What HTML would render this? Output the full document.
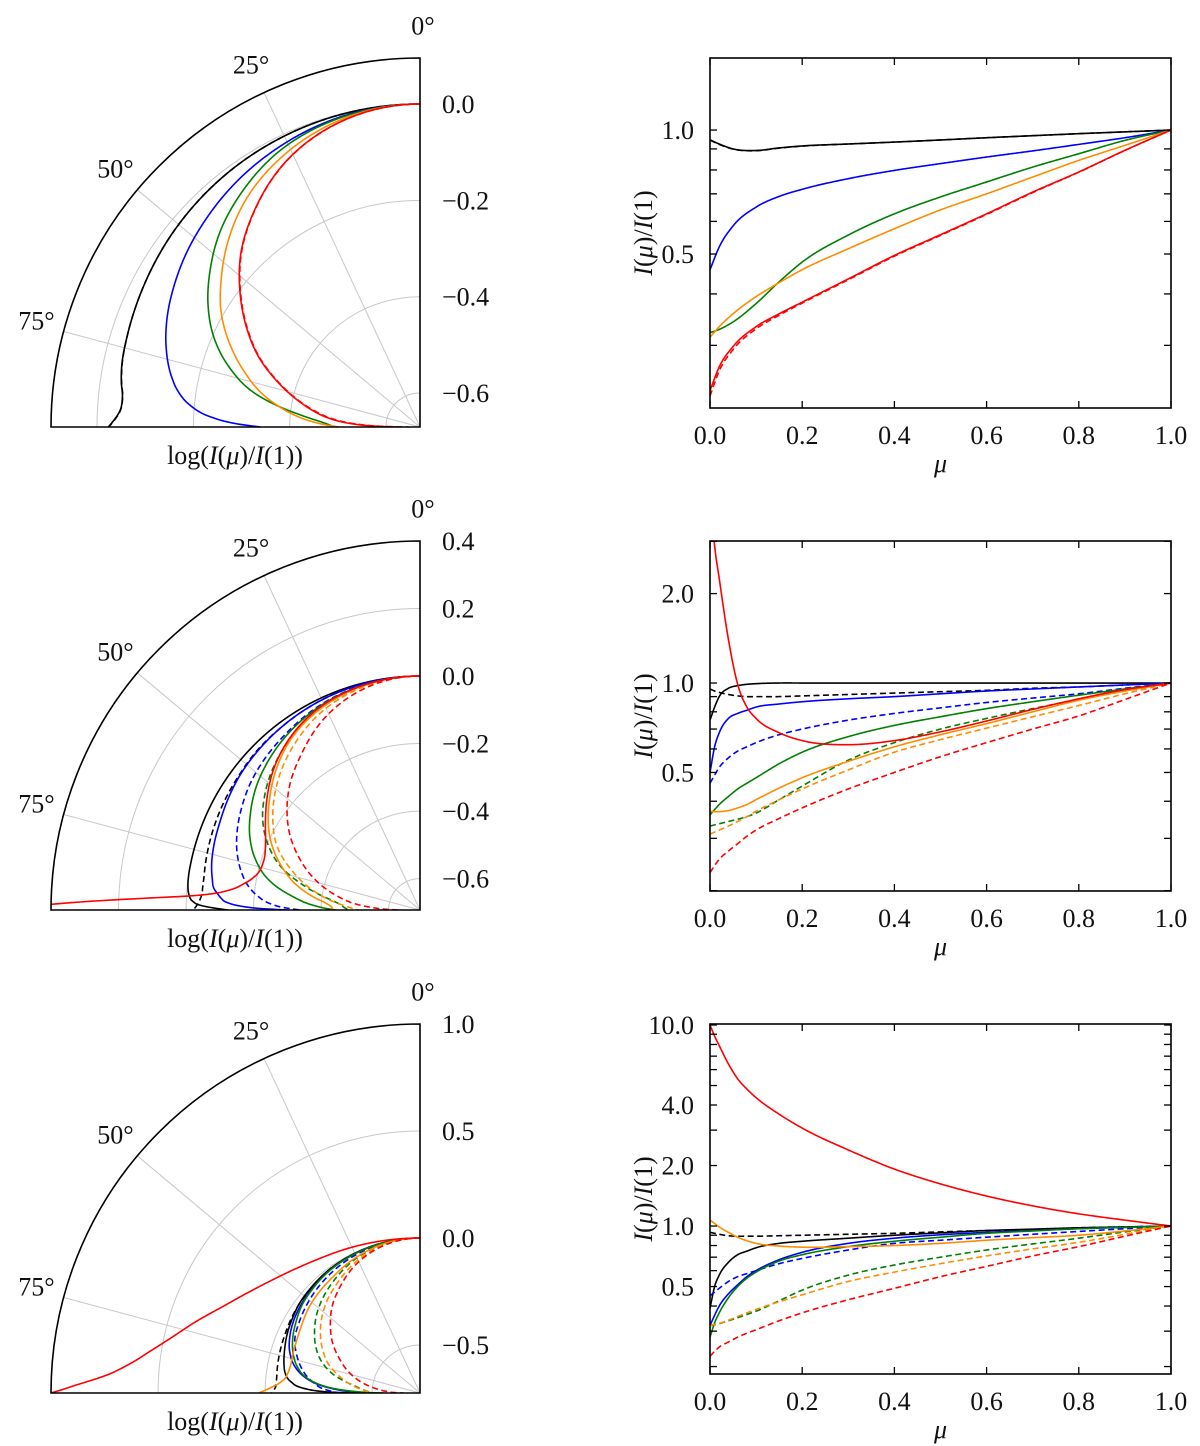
<!DOCTYPE html>
<html><head><meta charset="utf-8">
<style>
html,body{margin:0;padding:0;background:#fff;}
svg{display:block;}
text{font-family:"Liberation Serif","DejaVu Serif",serif;font-size:26px;fill:#111;}
</style></head>
<body>
<svg id="fig" width="1200" height="1446" viewBox="0 0 1200 1446" xmlns="http://www.w3.org/2000/svg"></svg>
<script>
// ---------- DATA: I(mu)/I(1) ----------
const muRow1=[0,0.02,0.05,0.1,0.15,0.2,0.3,0.4,0.5,0.6,0.7,0.8,0.9,1];
const r1Black=[0.947,0.925,0.9,0.892,0.905,0.915,0.925,0.935,0.946,0.958,0.969,0.98,0.99,1];
const r1BlackDash=[0.945,0.923,0.899,0.891,0.904,0.914,0.925,0.935,0.946,0.958,0.969,0.98,0.99,1];
const r1Blue=[0.458,0.52,0.585,0.65,0.69,0.718,0.762,0.798,0.829,0.86,0.89,0.923,0.958,1];
const r1Green=[0.322,0.328,0.342,0.379,0.428,0.478,0.556,0.626,0.688,0.748,0.813,0.876,0.944,1];
const r1Orange=[0.314,0.333,0.358,0.394,0.426,0.458,0.515,0.576,0.64,0.7,0.769,0.844,0.918,1];
const r1Red=[0.233,0.266,0.298,0.333,0.358,0.382,0.435,0.496,0.557,0.626,0.707,0.791,0.893,1];
const r1RedDash=[0.226,0.26,0.293,0.329,0.355,0.38,0.433,0.494,0.555,0.624,0.705,0.79,0.892,1];

const muRow2=[0,0.01,0.02,0.04,0.06,0.08,0.1,0.15,0.2,0.3,0.4,0.5,0.6,0.7,0.8,0.9,1];
const r2Black=[0.75,0.83,0.9,0.96,0.98,0.99,0.995,1,1,1,1,1,1,1,1,1,1];
const r2BlackDash=[0.955,0.94,0.93,0.915,0.905,0.9,0.9,0.9,0.905,0.915,0.925,0.935,0.945,0.96,0.97,0.985,1];
const r2Blue=[0.5,0.61,0.68,0.76,0.79,0.81,0.83,0.85,0.865,0.885,0.9,0.92,0.94,0.955,0.97,0.985,1];
const r2BlueDash=[0.46,0.49,0.52,0.56,0.59,0.61,0.63,0.67,0.7,0.75,0.79,0.825,0.86,0.89,0.92,0.96,1];
const r2Green=[0.36,0.375,0.39,0.415,0.44,0.46,0.48,0.535,0.585,0.66,0.72,0.77,0.82,0.865,0.91,0.955,1];
const r2GreenDash=[0.33,0.333,0.336,0.342,0.348,0.355,0.365,0.405,0.45,0.55,0.63,0.7,0.76,0.82,0.88,0.94,1];
const r2Orange=[0.37,0.369,0.369,0.372,0.38,0.39,0.405,0.443,0.48,0.545,0.61,0.67,0.73,0.8,0.875,0.94,1];
const r2OrangeDash=[0.31,0.315,0.32,0.33,0.342,0.355,0.37,0.405,0.44,0.51,0.585,0.645,0.705,0.77,0.84,0.92,1];
const r2Red=[4.5,2.9,2.25,1.4,0.99,0.83,0.76,0.68,0.64,0.62,0.64,0.685,0.745,0.815,0.885,0.95,1];
const r2RedDash=[0.23,0.243,0.255,0.272,0.288,0.305,0.32,0.35,0.38,0.44,0.5,0.565,0.63,0.7,0.775,0.88,1];

const muRow3=[0,0.01,0.02,0.04,0.06,0.08,0.1,0.15,0.2,0.3,0.4,0.5,0.6,0.7,0.8,0.9,1];
const r3Black=[0.39,0.5,0.57,0.66,0.72,0.75,0.78,0.82,0.84,0.87,0.9,0.925,0.95,0.965,0.98,0.99,1];
const r3BlackDash=[0.93,0.92,0.91,0.895,0.89,0.89,0.89,0.895,0.9,0.91,0.92,0.935,0.95,0.96,0.98,0.99,1];
const r3Blue=[0.32,0.36,0.4,0.46,0.51,0.56,0.6,0.68,0.74,0.82,0.87,0.905,0.93,0.95,0.97,0.985,1];
const r3BlueDash=[0.45,0.47,0.49,0.53,0.56,0.58,0.6,0.65,0.69,0.76,0.82,0.85,0.88,0.91,0.94,0.97,1];
const r3Green=[0.28,0.33,0.37,0.44,0.5,0.55,0.59,0.67,0.72,0.79,0.84,0.88,0.92,0.945,0.97,0.985,1];
const r3GreenDash=[0.32,0.323,0.327,0.338,0.35,0.363,0.377,0.425,0.48,0.57,0.64,0.7,0.76,0.815,0.87,0.935,1];
const r3Orange=[1.07,1.03,0.99,0.93,0.88,0.845,0.82,0.795,0.785,0.79,0.8,0.82,0.85,0.875,0.9,0.945,1];
const r3OrangeDash=[0.32,0.324,0.328,0.34,0.355,0.37,0.385,0.42,0.455,0.53,0.59,0.65,0.71,0.77,0.83,0.91,1];
const r3Red=[10,8.8,7.9,6.4,5.4,4.8,4.35,3.6,3.07,2.39,1.92,1.62,1.41,1.26,1.15,1.07,1];
const r3RedDash=[0.225,0.238,0.25,0.265,0.28,0.293,0.305,0.338,0.37,0.43,0.49,0.56,0.63,0.71,0.79,0.89,1];

const polarTicks1=[0.0,-0.2,-0.4,-0.6];
const polarTicks2=[0.4,0.2,0.0,-0.2,-0.4,-0.6];
const polarTicks3=[1.0,0.5,0.0,-0.5];
const yTickLabels1=[0.5,1.0];
const yTickLabels2=[0.5,1.0,2.0];
const yTickLabels3=[0.5,1.0,2.0,4.0,10.0];
const xTicks=[0,0.2,0.4,0.6,0.8,1.0];
const angleTicks=[0,25,50,75];

// ---------- helpers ----------
const NS="http://www.w3.org/2000/svg";
const svg=document.getElementById('fig');
function mk(tag,attrs,parent){const e=document.createElementNS(NS,tag);for(const k in attrs)e.setAttribute(k,attrs[k]);(parent||svg).appendChild(e);return e;}
function spline(xs,ys){
  const n=xs.length,d=[],h=[],m=new Array(n);
  for(let i=0;i<n-1;i++){h.push(xs[i+1]-xs[i]);d.push((ys[i+1]-ys[i])/h[i]);}
  m[0]=d[0];m[n-1]=d[n-2];
  for(let i=1;i<n-1;i++){m[i]=(d[i-1]*h[i]+d[i]*h[i-1])/(h[i-1]+h[i]);}
  return function(x){let i=0;while(i<n-2&&x>xs[i+1])i++;const hh=h[i],t=(x-xs[i])/hh,t2=t*t,t3=t2*t;
    return (2*t3-3*t2+1)*ys[i]+(t3-2*t2+t)*hh*m[i]+(-2*t3+3*t2)*ys[i+1]+(t3-t2)*hh*m[i+1];};
}
const fmt=v=>(v<0?'\u2212':'')+Math.abs(v).toFixed(1);
const C={black:'#000000',blue:'#0000ff',green:'#008000',orange:'#ff8c00',red:'#ff0000'};

const rows=[
 {mu:muRow1,cy:427,rlo:-0.6705,rhi:0.0955,pt:polarTicks1,y0:58,y1:408,lo:-0.675,hi:0.175,yl:yTickLabels1,
  series:[['black',r1Black,0],['black',r1BlackDash,1],['blue',r1Blue,0],['green',r1Green,0],['orange',r1Orange,0],['red',r1Red,0],['red',r1RedDash,1]]},
 {mu:muRow2,cy:910,rlo:-0.693,rhi:0.4,pt:polarTicks2,y0:541,y1:891,lo:-0.700,hi:0.478,yl:yTickLabels2,
  series:[['black',r2Black,0],['black',r2BlackDash,1],['blue',r2Blue,0],['blue',r2BlueDash,1],['green',r2Green,0],['green',r2GreenDash,1],['orange',r2Orange,0],['orange',r2OrangeDash,1],['red',r2Red,0],['red',r2RedDash,1]]},
 {mu:muRow3,cy:1393,rlo:-0.724,rhi:1.0,pt:polarTicks3,y0:1024,y1:1374,lo:-0.736,hi:1.005,yl:yTickLabels3,
  series:[['black',r3Black,0],['black',r3BlackDash,1],['blue',r3Blue,0],['blue',r3BlueDash,1],['green',r3Green,0],['green',r3GreenDash,1],['orange',r3Orange,0],['orange',r3OrangeDash,1],['red',r3Red,0],['red',r3RedDash,1]]}
];
const CX=420,R=369,BX0=710,BX1=1171;
const defs=mk('defs',{});

rows.forEach((row,ri)=>{
  const cy=row.cy;
  const rpx=v=>(v-row.rlo)/(row.rhi-row.rlo)*R;
  // ----- polar panel -----
  const gp=mk('g',{});
  
  
  const cp=mk('clipPath',{id:'pc'+ri},defs);
  mk('path',{d:`M${CX},${cy} L${CX-R},${cy} A${R},${R} 0 0 1 ${CX},${cy-R} Z`},cp);
  row.pt.forEach(v=>{const r=rpx(v);if(r>=R-1||r<=0)return;
    const c=mk('path',{d:`M${CX-r},${cy} A${r},${r} 0 0 1 ${CX},${cy-r}`,fill:'none',stroke:'#c8c8c8','stroke-width':1},gp);
    
    
  });
  angleTicks.forEach(a=>{if(a===0)return;const t=a*Math.PI/180;
    const l=mk('line',{x1:CX,y1:cy,x2:CX-R*Math.sin(t),y2:cy-R*Math.cos(t),stroke:'#c8c8c8','stroke-width':1},gp);
    
    
  });
  const cg=mk('g',{'clip-path':`url(#pc${ri})`},gp);
  row.series.forEach(([col,vals,dash])=>{
    const f=spline(row.mu,vals.map(v=>Math.log10(v)));
    let d='';
    for(let i=0;i<=600;i++){const t=i/600*Math.PI/2,mu=Math.cos(t);const r=Math.max(0,rpx(f(mu)));
      d+=(i?'L':'M')+(CX-r*Math.sin(t)).toFixed(2)+','+(cy-r*Math.cos(t)).toFixed(2);}
    const p=mk('path',{d,fill:'none',stroke:C[col],'stroke-width':1.6,'stroke-dasharray':dash?'6,3.5':'none'},cg);
    
    
  });
  const fr=mk('path',{d:`M${CX},${cy} L${CX-R},${cy} A${R},${R} 0 0 1 ${CX},${cy-R} Z`,fill:'none',stroke:'#000','stroke-width':1.6},gp);
  
  
  angleTicks.forEach(a=>{const t=a*Math.PI/180,rr=R+26;
    const tx=mk('text',{x:CX-rr*Math.sin(t)+(a===0?3:-2),y:cy-rr*Math.cos(t)+(a===0?-6:-4),'text-anchor':'middle','dominant-baseline':'central'},gp);
    tx.textContent=a+'\u00B0';
    
    
  });
  row.pt.forEach(v=>{const tx=mk('text',{x:442,y:cy-rpx(v)+9,'text-anchor':'start'},gp);tx.textContent=fmt(v);
    
    });
  const xl=mk('text',{x:235,y:cy+37,'text-anchor':'middle'},gp);
  xl.innerHTML='log(<tspan font-style="italic">I</tspan>(<tspan font-style="italic">μ</tspan>)/<tspan font-style="italic">I</tspan>(1))';
  
  

  // ----- cartesian panel -----
  const gc=mk('g',{});
  
  
  const X=mu=>BX0+(BX1-BX0)*mu;
  const Y=v=>row.y1-(Math.log10(v)-row.lo)/(row.hi-row.lo)*(row.y1-row.y0);
  const cc=mk('clipPath',{id:'cc'+ri},defs);
  mk('rect',{x:BX0,y:row.y0,width:BX1-BX0,height:row.y1-row.y0},cc);
  const lg=mk('g',{'clip-path':`url(#cc${ri})`},gc);
  row.series.forEach(([col,vals,dash])=>{
    const f=spline(row.mu,vals.map(v=>Math.log10(v)));
    let d='';
    for(let i=0;i<=800;i++){const mu=Math.pow(i/800,1.6);const lv=f(mu);
      d+=(i?'L':'M')+X(mu).toFixed(2)+','+Y(Math.pow(10,lv)).toFixed(2);}
    const p=mk('path',{d,fill:'none',stroke:C[col],'stroke-width':1.6,'stroke-dasharray':dash?'6,3.5':'none'},lg);
    
    
  });
  const bx=mk('rect',{x:BX0,y:row.y0,width:BX1-BX0,height:row.y1-row.y0,fill:'none',stroke:'#000','stroke-width':1.6},gc);
  
  
  xTicks.forEach(m=>{
    mk('line',{x1:X(m),y1:row.y1,x2:X(m),y2:row.y1-7,stroke:'#000','stroke-width':1.3},gc);
    mk('line',{x1:X(m),y1:row.y0,x2:X(m),y2:row.y0+7,stroke:'#000','stroke-width':1.3},gc);
    const tx=mk('text',{x:X(m),y:row.y1+36,'text-anchor':'middle'},gc);tx.textContent=m.toFixed(1);
    
    
  });
  [0.1,0.2,0.3,0.4,0.5,0.6,0.7,0.8,0.9,1,2,3,4,5,6,7,8,9,10].forEach(v=>{
    const y=Y(v);if(y<row.y0-0.5||y>row.y1+0.5)return;
    mk('line',{x1:BX0,y1:y,x2:BX0+7,y2:y,stroke:'#000','stroke-width':1.3},gc);
    mk('line',{x1:BX1,y1:y,x2:BX1-7,y2:y,stroke:'#000','stroke-width':1.3},gc);
  });
  row.yl.forEach(v=>{const tx=mk('text',{x:694,y:Y(v)+9,'text-anchor':'end'},gc);tx.textContent=v.toFixed(1);
    
    });
  const my=(row.y0+row.y1)/2;
  const yt=mk('text',{x:0,y:0,'text-anchor':'middle',transform:`translate(652,${my}) rotate(-90)`},gc);
  yt.innerHTML='<tspan font-style="italic">I</tspan>(<tspan font-style="italic">μ</tspan>)/<tspan font-style="italic">I</tspan>(1)';
  
  
  const xt=mk('text',{x:(BX0+BX1)/2,y:row.y1+64,'text-anchor':'middle','font-style':'italic'},gc);
  xt.textContent='μ';
  
  
});
</script>
</body></html>
